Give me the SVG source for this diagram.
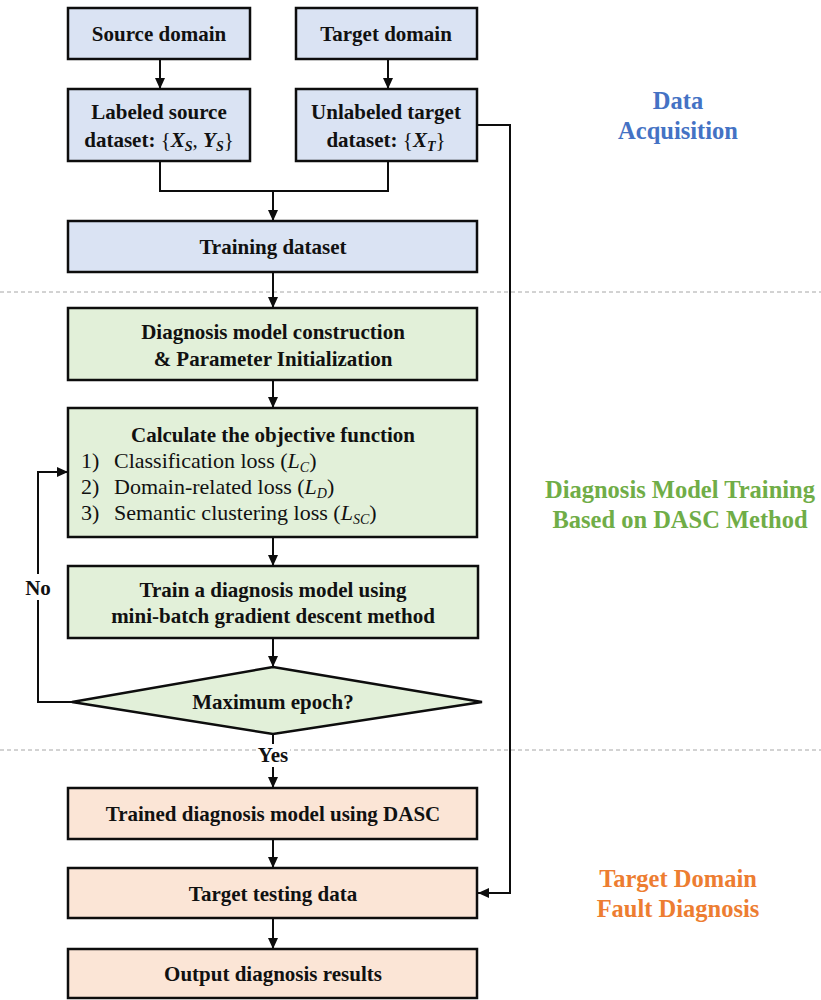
<svg xmlns="http://www.w3.org/2000/svg" width="821" height="1000" viewBox="0 0 821 1000">
  <style>
    .box { stroke: #0d0d0d; stroke-width: 2.5; }
    .blue { fill: #dae3f3; }
    .green { fill: #e2f0d9; }
    .orange { fill: #fbe5d6; }
    .t { font-family: "Liberation Serif", "Times New Roman", serif; font-size: 21px; font-weight: bold; fill: #111; text-anchor: middle; }
    .r { font-family: "Liberation Serif", "Times New Roman", serif; font-size: 22px; fill: #111; }
    .m { font-style: italic; }
    .n { font-weight: normal; }
    .side { font-family: "Liberation Serif", "Times New Roman", serif; font-size: 24.5px; font-weight: bold; text-anchor: middle; }
    .line { fill: none; stroke: #0d0d0d; stroke-width: 2; }
    .dash { stroke: #a6a6a6; stroke-width: 1; stroke-dasharray: 4 3; }
  </style>
  <defs>
    <marker id="arrow" markerUnits="userSpaceOnUse" markerWidth="12" markerHeight="12" viewBox="0 0 12 12" refX="11" refY="6" orient="auto">
      <path d="M0,1 L11,6 L0,11 Z" fill="#0d0d0d"/>
    </marker>
  </defs>

  <rect width="821" height="1000" fill="#ffffff"/>

  <!-- section separators -->
  <g id="separators">
    <line class="dash" x1="0" y1="292" x2="821" y2="292"/>
    <line class="dash" x1="0" y1="750" x2="821" y2="750"/>
  </g>

  <!-- section titles -->
  <g id="section-labels">
    <text class="side" fill="#4472c4" x="678" y="109">Data</text>
    <text class="side" fill="#4472c4" x="678" y="139">Acquisition</text>
    <text class="side" fill="#70ad47" x="680" y="498">Diagnosis Model Training</text>
    <text class="side" fill="#70ad47" x="680" y="528">Based on DASC Method</text>
    <text class="side" fill="#ed7d31" x="678" y="887">Target Domain</text>
    <text class="side" fill="#ed7d31" x="678" y="917">Fault Diagnosis</text>
  </g>

  <!-- connectors -->
  <g id="connectors">
    <line class="line" x1="160" y1="59" x2="160" y2="89" marker-end="url(#arrow)"/>
    <line class="line" x1="388" y1="59" x2="388" y2="89" marker-end="url(#arrow)"/>
    <polyline class="line" points="160,161 160,191 388,191 388,161"/>
    <line class="line" x1="273" y1="191" x2="273" y2="221" marker-end="url(#arrow)"/>
    <line class="line" x1="273" y1="272" x2="273" y2="308" marker-end="url(#arrow)"/>
    <line class="line" x1="273" y1="380" x2="273" y2="408" marker-end="url(#arrow)"/>
    <line class="line" x1="273" y1="537" x2="273" y2="566" marker-end="url(#arrow)"/>
    <line class="line" x1="273" y1="638" x2="273" y2="667" marker-end="url(#arrow)"/>
    <line class="line" x1="273" y1="734" x2="273" y2="744"/>
    <line class="line" x1="273" y1="767" x2="273" y2="788" marker-end="url(#arrow)"/>
    <line class="line" x1="273" y1="839" x2="273" y2="868" marker-end="url(#arrow)"/>
    <line class="line" x1="273" y1="918" x2="273" y2="949" marker-end="url(#arrow)"/>
    <polyline class="line" points="72,702 38,702 38,472 68,472" marker-end="url(#arrow)"/>
    <polyline class="line" points="477,125 510,125 510,893 478,893" marker-end="url(#arrow)"/>
    <rect x="24" y="574" width="28" height="26" fill="#ffffff"/>
    <text class="t" x="38" y="595">No</text>
    <rect x="256" y="744" width="34" height="22" fill="#ffffff"/>
    <text class="t" x="273" y="762">Yes</text>
  </g>

  <g id="source-domain">
    <rect class="box blue" x="68" y="8" width="182" height="51"/>
    <text class="t" x="159" y="41">Source domain</text>
  </g>

  <g id="target-domain">
    <rect class="box blue" x="296" y="8" width="181" height="51"/>
    <text class="t" x="386" y="41">Target domain</text>
  </g>

  <g id="labeled-source">
    <rect class="box blue" x="68" y="89" width="182" height="72"/>
    <text class="t" x="159" y="119">Labeled source</text>
    <text class="t" x="159" y="147">dataset: <tspan class="n">{</tspan><tspan class="m">X</tspan><tspan class="m" font-size="14" dy="4">S</tspan><tspan class="n" dy="-4">, </tspan><tspan class="m">Y</tspan><tspan class="m" font-size="14" dy="4">S</tspan><tspan class="n" dy="-4">}</tspan></text>
  </g>

  <g id="unlabeled-target">
    <rect class="box blue" x="296" y="89" width="181" height="72"/>
    <text class="t" x="386" y="119">Unlabeled target</text>
    <text class="t" x="386" y="147">dataset: <tspan class="n">{</tspan><tspan class="m">X</tspan><tspan class="m" font-size="14" dy="4">T</tspan><tspan class="n" dy="-4">}</tspan></text>
  </g>

  <g id="training-dataset">
    <rect class="box blue" x="68" y="221" width="409" height="51"/>
    <text class="t" x="273" y="254">Training dataset</text>
  </g>

  <g id="model-construction">
    <rect class="box green" x="68" y="308" width="409" height="72"/>
    <text class="t" x="273" y="339">Diagnosis model construction</text>
    <text class="t" x="273" y="366">&amp; Parameter Initialization</text>
  </g>

  <g id="objective-function">
    <rect class="box green" x="68" y="408" width="409" height="129"/>
    <text class="t" x="273" y="442">Calculate the objective function</text>
    <text class="r" x="81" y="468">1)</text>
    <text class="r" x="114" y="468">Classification loss (<tspan class="m">L</tspan><tspan class="m" font-size="14" dy="4">C</tspan><tspan dy="-4">)</tspan></text>
    <text class="r" x="81" y="494">2)</text>
    <text class="r" x="114" y="494">Domain-related loss (<tspan class="m">L</tspan><tspan class="m" font-size="14" dy="4">D</tspan><tspan dy="-4">)</tspan></text>
    <text class="r" x="81" y="520">3)</text>
    <text class="r" x="114" y="520">Semantic clustering loss (<tspan class="m">L</tspan><tspan class="m" font-size="14" dy="4">SC</tspan><tspan dy="-4">)</tspan></text>
  </g>

  <g id="train-model">
    <rect class="box green" x="68" y="566" width="410" height="72"/>
    <text class="t" x="273" y="597">Train a diagnosis model using</text>
    <text class="t" x="273" y="623">mini-batch gradient descent method</text>
  </g>

  <g id="max-epoch">
    <polygon class="box green" points="273,667 482,702 273,734 72,702"/>
    <text class="t" x="273" y="709">Maximum epoch?</text>
  </g>

  <g id="trained-model">
    <rect class="box orange" x="68" y="788" width="409" height="51"/>
    <text class="t" x="273" y="821">Trained diagnosis model using DASC</text>
  </g>

  <g id="target-testing">
    <rect class="box orange" x="68" y="868" width="409" height="50"/>
    <text class="t" x="273" y="901">Target testing data</text>
  </g>

  <g id="output-results">
    <rect class="box orange" x="68" y="949" width="409" height="49"/>
    <text class="t" x="273" y="981">Output diagnosis results</text>
  </g>
</svg>
